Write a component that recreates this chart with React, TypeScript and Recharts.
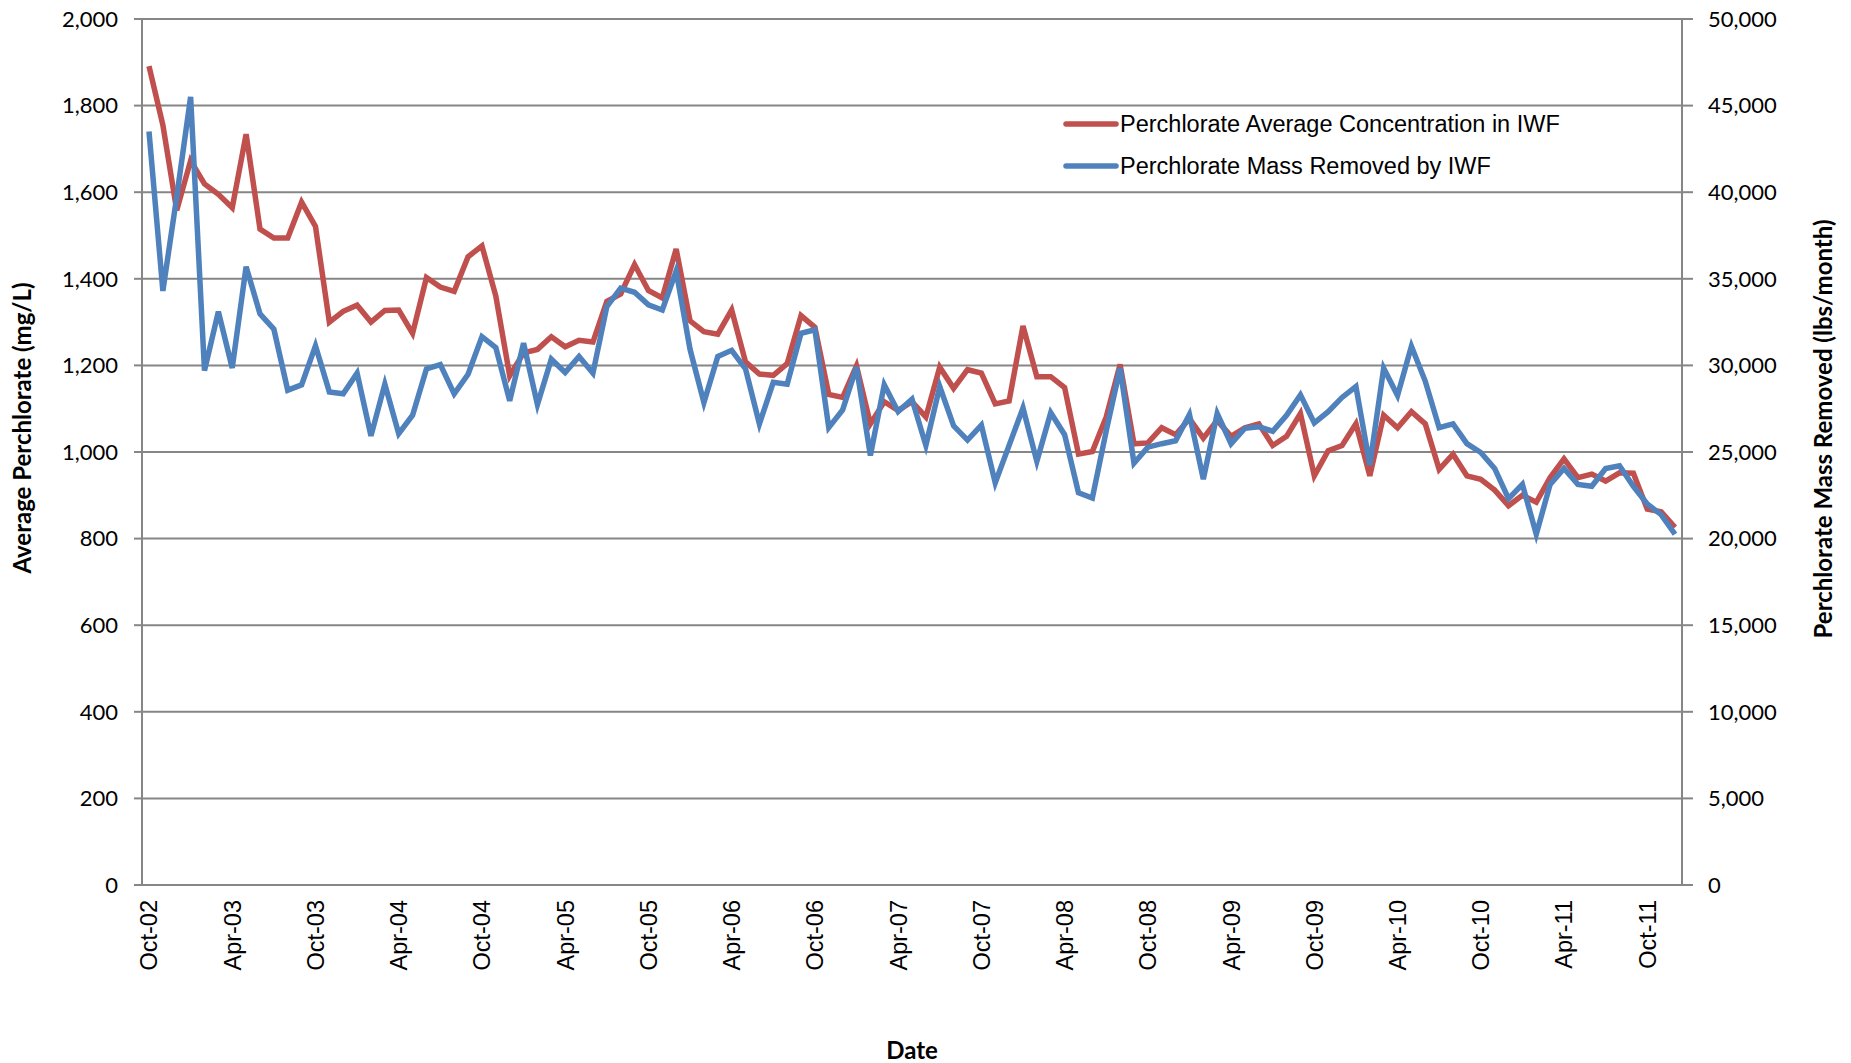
import { LineChart, Line, XAxis, YAxis, CartesianGrid, Legend } from "recharts";

const MONTHS = ["Jan", "Feb", "Mar", "Apr", "May", "Jun", "Jul", "Aug", "Sep", "Oct", "Nov", "Dec"];

// monthly values, Oct-02 through Dec-11
const concentration = [
  1891, 1755, 1558, 1673, 1619, 1595, 1564, 1734, 1515, 1494, 1494, 1577,
  1521, 1300, 1325, 1339, 1300, 1327, 1328, 1274, 1403, 1381, 1371, 1451,
  1476, 1360, 1176, 1229, 1237, 1266, 1243, 1258, 1254, 1348, 1365, 1433,
  1373, 1356, 1469, 1303, 1278, 1272, 1328, 1208, 1180, 1177, 1204, 1315,
  1288, 1133, 1126, 1199, 1065, 1116, 1096, 1116, 1081, 1196, 1147, 1190,
  1182, 1111, 1118, 1291, 1174, 1174, 1149, 995, 1001, 1081, 1202, 1019,
  1021, 1056, 1040, 1077, 1032, 1073, 1036, 1056, 1065, 1015, 1036, 1089,
  945, 1003, 1015, 1065, 945, 1085, 1056, 1093, 1065, 960, 995, 945,
  937, 912, 876, 900, 884, 941, 984, 941, 949, 933, 952, 951,
  868, 862, 826,
];

const massRemoved = [
  43500, 34300, 39750, 45500, 29700, 33100, 29850, 35700, 32980, 32100, 28570, 28880,
  31130, 28470, 28360, 29550, 25930, 28920, 26060, 27120, 29800, 30050, 28360, 29490,
  31660, 31030, 27950, 31280, 27740, 30360, 29590, 30520, 29550, 33390, 34460, 34220,
  33500, 33200, 35450, 30930, 27860, 30520, 30870, 29800, 26620, 29020, 28920, 31850,
  32060, 26410, 27430, 29900, 24800, 28880, 27330, 28050, 25380, 28780, 26510, 25690,
  26550, 23220, 25380, 27540, 24460, 27270, 26000, 22650, 22340, 26210, 29840, 24350,
  25280, 25480, 25650, 27170, 23430, 27220, 25480, 26370, 26450, 26200, 27120, 28300,
  26680, 27330, 28150, 28780, 24250, 29840, 28260, 31100, 29080, 26400, 26620, 25480,
  24970, 24050, 22300, 23130, 20250, 23130, 24050, 23130, 23020, 24050, 24210, 23020,
  22000, 21380, 20250,
];

const leftTicks = [0, 200, 400, 600, 800, 1000, 1200, 1400, 1600, 1800, 2000];
const rightTicks = [0, 5000, 10000, 15000, 20000, 25000, 30000, 35000, 40000, 45000, 50000];

const dates = concentration.map((_, i) => {
  const m = (9 + i) % 12;
  const yr = 2002 + Math.floor((9 + i) / 12);
  return `${MONTHS[m]}-${String(yr % 100).padStart(2, "0")}`;
});

const data = dates.map((date, i) => ({
  date,
  conc: concentration[i],
  mass: massRemoved[i],
}));

const RED = "#C0504D";
const BLUE = "#4F81BD";
const GRID = "#868686";
const TICK_FONT = "Lato, 'Open Sans', sans-serif";
const ARIAL = "'Liberation Sans', Arial, sans-serif";

const fmt = (v: number) => v.toLocaleString("en-US");

function DateTick(props: any) {
  const { x, y, payload } = props;
  return (
    <text
      transform={`translate(${x},${y}) rotate(-90)`}
      textAnchor="end"
      dy="0.36em"
      fontSize={23.5}
      fontFamily={ARIAL}
      fill="#000"
    >
      {payload.value}
    </text>
  );
}

function Title(props: any) {
  const { tx, ty, rot, text } = props;
  return (
    <text
      transform={`translate(${tx},${ty}) rotate(${rot})`}
      textAnchor="middle"
      dominantBaseline="central"
      fontSize={24}
      fontWeight={700}
      fontFamily={TICK_FONT}
      fill="#000"
    >
      {text}
    </text>
  );
}

function LegendBox() {
  const rows = [
    { color: RED, name: "Perchlorate Average Concentration in IWF" },
    { color: BLUE, name: "Perchlorate Mass Removed by IWF" },
  ];
  return (
    <div>
      {rows.map((r) => (
        <div
          key={r.name}
          style={{ display: "flex", alignItems: "center", height: 42 }}
        >
          <svg width={56} height={10}>
            <line
              x1={3}
              y1={5}
              x2={53}
              y2={5}
              stroke={r.color}
              strokeWidth={5.5}
              strokeLinecap="round"
            />
          </svg>
          <span
            style={{
              fontFamily: ARIAL,
              fontSize: 23.5,
              color: "#000",
              marginLeft: 1,
              whiteSpace: "nowrap",
            }}
          >
            {r.name}
          </span>
        </div>
      ))}
    </div>
  );
}

export default function App() {
  return (
    <div style={{ position: "absolute", left: 0, top: 0, background: "#fff" }}>
      <LineChart
        width={1851}
        height={1063}
        data={data}
        margin={{ top: 19, right: 0, bottom: 0, left: 0 }}
      >
        <CartesianGrid
          yAxisId="left"
          vertical={false}
          stroke={GRID}
          strokeWidth={2}
        />
        <XAxis
          dataKey="date"
          interval={5}
          height={178}
          padding={{ left: 7, right: 7 }}
          tickLine={false}
          tickMargin={9}
          axisLine={{ stroke: GRID, strokeWidth: 2 }}
          tick={<DateTick />}
          label={<Title tx={912} ty={1049} rot={0} text="Date" />}
        />
        <YAxis
          yAxisId="left"
          width={142}
          domain={[0, 2000]}
          ticks={leftTicks}
          tickFormatter={fmt}
          tickSize={8}
          tickMargin={16}
          tickLine={{ stroke: GRID, strokeWidth: 2 }}
          axisLine={{ stroke: GRID, strokeWidth: 2 }}
          tick={{ fill: "#000", fontSize: 22, fontFamily: TICK_FONT }}
          label={<Title tx={21} ty={428} rot={-90} text="Average Perchlorate (mg/L)" />}
        />
        <YAxis
          yAxisId="right"
          orientation="right"
          width={169}
          domain={[0, 50000]}
          ticks={rightTicks}
          tickFormatter={fmt}
          tickSize={11}
          tickMargin={15}
          tickLine={{ stroke: GRID, strokeWidth: 2 }}
          axisLine={{ stroke: GRID, strokeWidth: 2 }}
          tick={{ fill: "#000", fontSize: 22, fontFamily: TICK_FONT, textAnchor: "start" }}
          label={
            <Title
              tx={1822}
              ty={429}
              rot={-90}
              text="Perchlorate Mass Removed (lbs/month)"
            />
          }
        />
        <Legend
          layout="vertical"
          align="center"
          verticalAlign="middle"
          content={<LegendBox />}
          wrapperStyle={{ left: 1063, top: 103, width: 560 }}
        />
        <Line
          yAxisId="left"
          type="linear"
          dataKey="conc"
          name="Perchlorate Average Concentration in IWF"
          stroke={RED}
          strokeWidth={5.5}
          dot={false}
          isAnimationActive={false}
        />
        <Line
          yAxisId="right"
          type="linear"
          dataKey="mass"
          name="Perchlorate Mass Removed by IWF"
          stroke={BLUE}
          strokeWidth={5.5}
          dot={false}
          isAnimationActive={false}
        />
      </LineChart>
    </div>
  );
}
